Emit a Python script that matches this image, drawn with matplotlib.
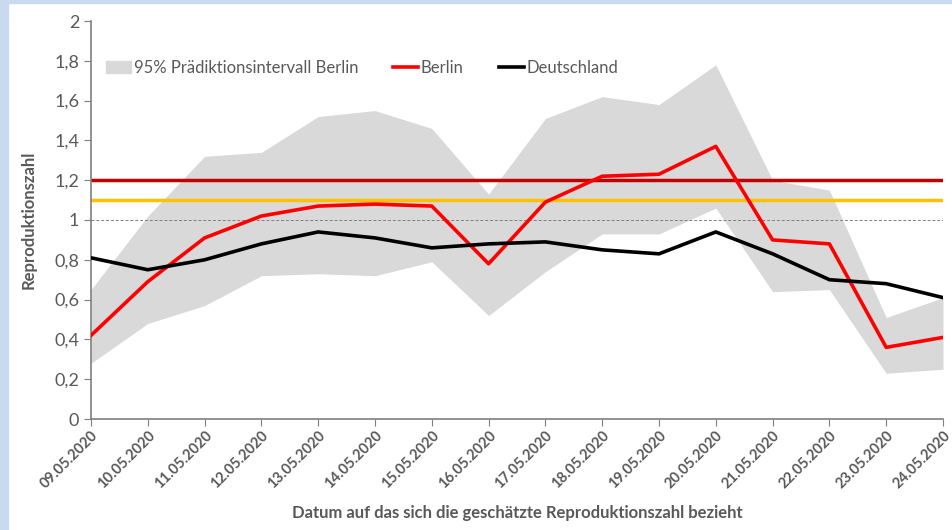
import matplotlib.pyplot as plt
import matplotlib.patches as mpatches
import numpy as np

dates = ['09.05.2020', '10.05.2020', '11.05.2020', '12.05.2020', '13.05.2020', '14.05.2020',
         '15.05.2020', '16.05.2020', '17.05.2020', '18.05.2020', '19.05.2020', '20.05.2020',
         '21.05.2020', '22.05.2020', '23.05.2020', '24.05.2020']
berlin = [0.42, 0.69, 0.91, 1.02, 1.07, 1.08, 1.07, 0.78, 1.09, 1.22, 1.23, 1.37, 0.90, 0.88, 0.36, 0.41]
deutschland = [0.81, 0.75, 0.80, 0.88, 0.94, 0.91, 0.86, 0.88, 0.89, 0.85, 0.83, 0.94, 0.83, 0.70, 0.68, 0.61]
upper = [0.65, 1.02, 1.32, 1.34, 1.52, 1.55, 1.46, 1.13, 1.51, 1.62, 1.58, 1.78, 1.20, 1.15, 0.51, 0.61]
lower = [0.28, 0.48, 0.57, 0.72, 0.73, 0.72, 0.79, 0.52, 0.74, 0.93, 0.93, 1.06, 0.64, 0.65, 0.23, 0.25]
yticks = [0, 0.2, 0.4, 0.6, 0.8, 1.0, 1.2, 1.4, 1.6, 1.8, 2.0]

plt.rcParams['font.family'] = ['Lato', 'DejaVu Sans']
grey = '#595959'

fig = plt.figure(figsize=(9.52, 5.30), dpi=100)
# light blue frame remnants at the left and top edge
fig.patches.append(mpatches.Rectangle((0, 0), 8 / 952, 1, transform=fig.transFigure,
                                      color='#C9DAF0', zorder=0))
fig.patches.append(mpatches.Rectangle((0, 1 - 3 / 530), 1, 3 / 530, transform=fig.transFigure,
                                      color='#C9DAF0', zorder=0))
ax = fig.add_axes([91 / 952, 1 - 419 / 530, (943 - 91) / 952, (419 - 21) / 530])

x = np.arange(len(dates))
ax.fill_between(x, lower, upper, color='#D9D9D9', linewidth=0, zorder=1)
ax.axhline(1.0, color='#7f7f7f', linewidth=0.7, linestyle=(0, (3, 2)), zorder=2)
ax.axhline(1.2, color='#C00000', linewidth=2.5, zorder=2)
ax.axhline(1.1, color='#FFC000', linewidth=2.5, zorder=2)
ax.plot(x, berlin, color='#FF0000', linewidth=2.6, zorder=3)
ax.plot(x, deutschland, color='black', linewidth=2.6, zorder=3)

ax.set_xlim(0, len(dates) - 1)
ax.set_ylim(0, 2)
ax.set_xticks(x)
ax.set_xticklabels(dates, rotation=45, ha='right', rotation_mode='anchor',
                   fontsize=10.5, fontweight='bold', color=grey)
ax.set_yticks(yticks)
ax.set_yticklabels([f'{v:g}'.replace('.', ',') for v in yticks], fontsize=13, color=grey)
ax.tick_params(axis='both', direction='out', color='#7f7f7f', length=5)
ax.tick_params(axis='x', pad=2)

for s in ['top', 'right']:
    ax.spines[s].set_visible(False)
for s in ['left', 'bottom']:
    ax.spines[s].set_color('#7f7f7f')
    ax.spines[s].set_linewidth(1.2)

ax.set_ylabel('Reproduktionszahl', fontsize=12, fontweight='bold', color=grey, labelpad=13)
ax.set_xlabel('Datum auf das sich die geschätzte Reproduktionszahl bezieht',
              fontsize=12, fontweight='bold', color=grey, labelpad=10)

handles = [mpatches.Patch(color='#D9D9D9', label='95% Prädiktionsintervall Berlin'),
           plt.Line2D([], [], color='#FF0000', linewidth=2.6, label='Berlin'),
           plt.Line2D([], [], color='black', linewidth=2.6, label='Deutschland')]
leg = ax.legend(handles=handles, loc='upper left', bbox_to_anchor=(0.01, 0.92), ncol=3,
                frameon=False, fontsize=12, handlelength=1.5, handletextpad=0.15,
                columnspacing=2.1, borderaxespad=0)
for t in leg.get_texts():
    t.set_color(grey)

fig.savefig('out.png', dpi=100)
